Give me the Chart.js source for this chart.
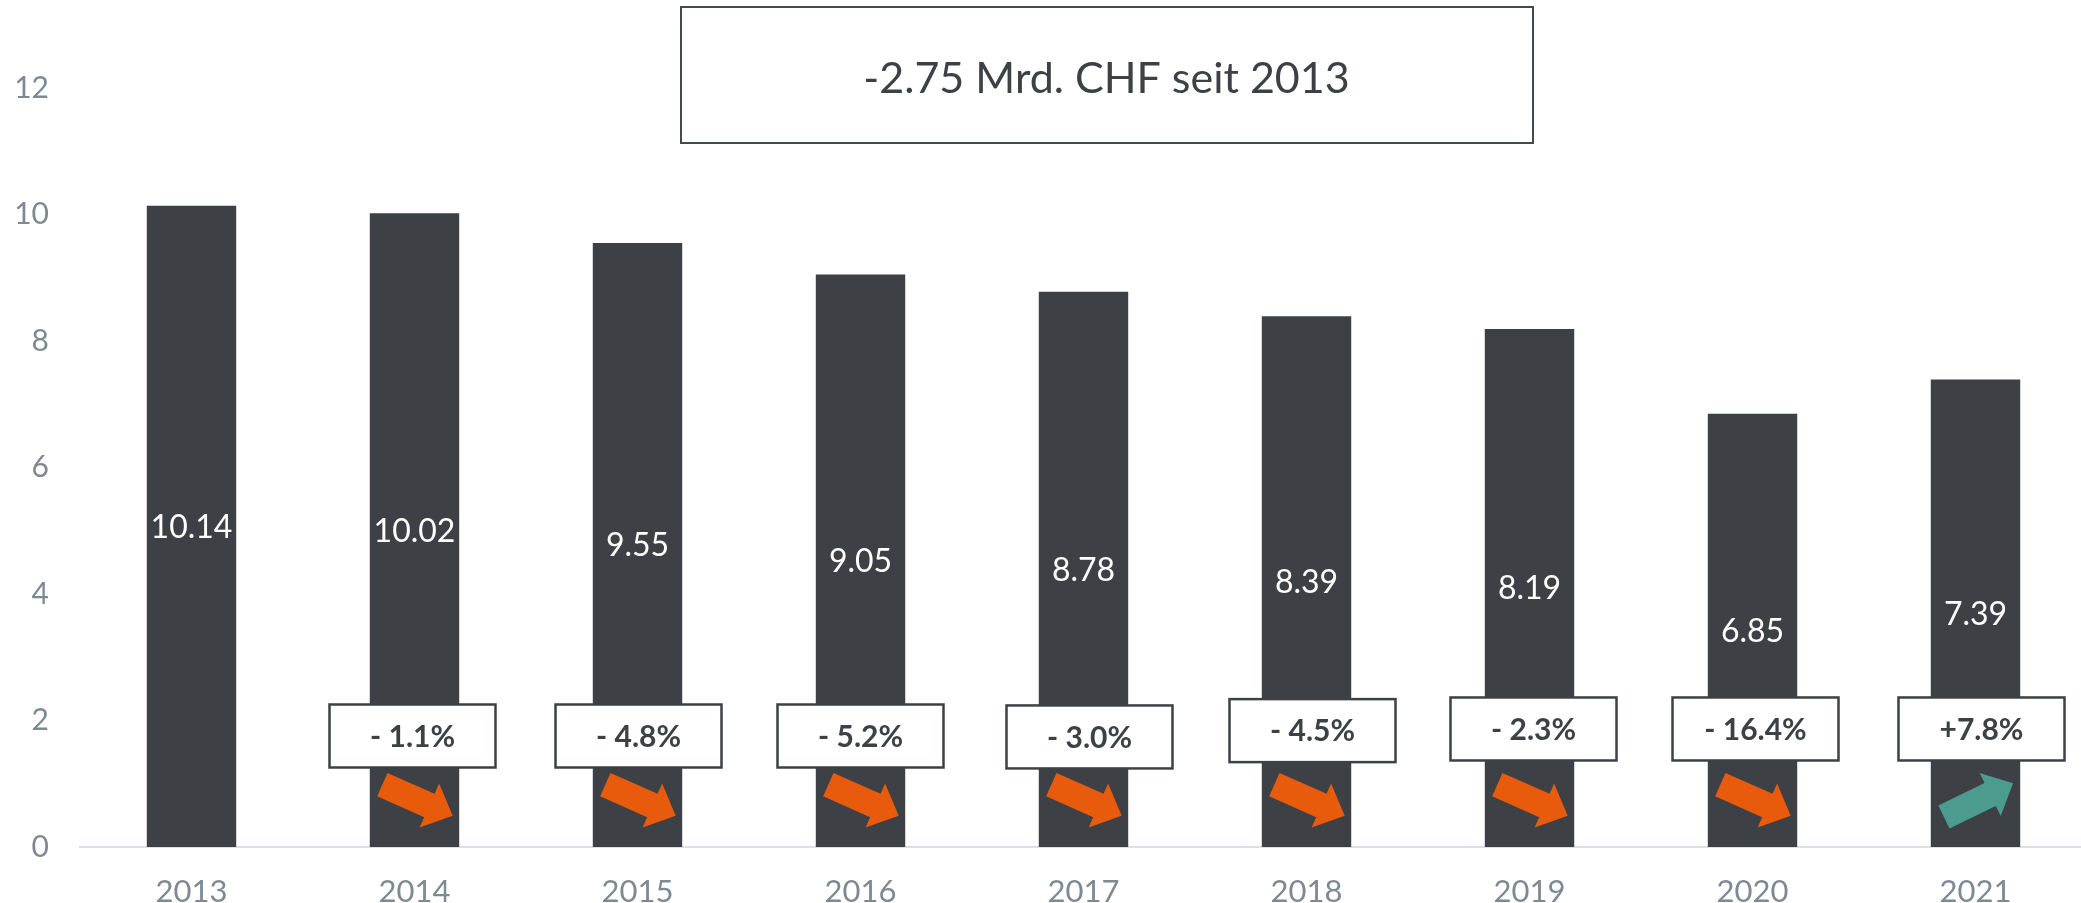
<!DOCTYPE html>
<html>
<head>
<meta charset="utf-8">
<script src="https://cdn.jsdelivr.net/npm/chart.js@4.4.0/dist/chart.umd.min.js"></script>
<style>
  html, body { margin: 0; padding: 0; background: #ffffff; overflow: hidden; }
  #wrap { position: absolute; left: 0; top: 0; width: 2087px; height: 903px; }
</style>
</head>
<body>
<div id="wrap"><canvas id="c" width="2087" height="903"></canvas></div>
<script>
// ---- data ----
const categories = ['2013', '2014', '2015', '2016', '2017', '2018', '2019', '2020', '2021'];
const values = [10.14, 10.02, 9.55, 9.05, 8.78, 8.39, 8.19, 6.85, 7.39];
const changeLabels = [null, '- 1.1%', '- 4.8%', '- 5.2%', '- 3.0%', '- 4.5%', '- 2.3%', '- 16.4%', '+7.8%'];
const yTickValues = [0, 2, 4, 6, 8, 10, 12];
const headline = '-2.75 Mrd. CHF seit 2013';

const FONT = 'Lato, "Open Sans", sans-serif';
const DARK = '#3d4145';
const TICK = '#7d8a93';

const barValuePlugin = {
  id: 'barValues',
  afterDatasetsDraw(chart) {
    const ctx = chart.ctx;
    const meta = chart.getDatasetMeta(0);
    ctx.save();
    ctx.font = '32px ' + FONT;
    ctx.fillStyle = '#ffffff';
    ctx.textAlign = 'center';
    ctx.textBaseline = 'alphabetic';
    meta.data.forEach((bar, i) => {
      const mid = (bar.y + bar.base) / 2;
      ctx.fillText(values[i].toFixed(2), bar.x, mid + 0.7165 * 32 / 2);
    });
    ctx.restore();
  }
};

const changePlugin = {
  id: 'changes',
  afterDatasetsDraw(chart, args, opts) {
    const ctx = chart.ctx;
    const xs = chart.scales.x, ys = chart.scales.y;
    ctx.save();
    for (let i = 1; i < categories.length; i++) {
      if (!changeLabels[i]) continue;
      const cx = xs.getPixelForValue(i) + opts.boxDx[i];
      const cy = ys.getPixelForValue(opts.boxLevel[i]);
      const w = 166, h = 63;
      ctx.fillStyle = '#ffffff';
      ctx.fillRect(cx - w / 2, cy - h / 2, w, h);
      ctx.lineWidth = 2.5;
      ctx.strokeStyle = DARK;
      ctx.strokeRect(cx - w / 2, cy - h / 2, w, h);
      ctx.font = 'bold 30px ' + FONT;
      ctx.fillStyle = DARK;
      ctx.textAlign = 'center';
      ctx.textBaseline = 'alphabetic';
      ctx.fillText(changeLabels[i], cx, cy + 0.7165 * 30 / 2);

      // arrow
      const up = values[i] > values[i - 1];
      const ax = xs.getPixelForValue(i) + 3;
      const ay = ys.getPixelForValue(opts.arrowLevel);
      ctx.save();
      ctx.translate(ax, ay);
      ctx.rotate((up ? -26 : 24) * Math.PI / 180);
      ctx.beginPath();
      ctx.moveTo(-38.5, -12.75);
      ctx.lineTo(13, -12.75);
      ctx.lineTo(13, -24);
      ctx.lineTo(38.5, 0);
      ctx.lineTo(13, 24);
      ctx.lineTo(13, 12.75);
      ctx.lineTo(-38.5, 12.75);
      ctx.closePath();
      ctx.fillStyle = up ? '#4b9b8f' : '#e85b0c';
      ctx.fill();
      ctx.restore();
    }
    ctx.restore();
  }
};

const headlinePlugin = {
  id: 'headline',
  afterDraw(chart) {
    const ctx = chart.ctx;
    ctx.save();
    ctx.fillStyle = '#ffffff';
    ctx.fillRect(680, 6, 853, 137);
    ctx.lineWidth = 2;
    ctx.strokeStyle = '#45494d';
    ctx.strokeRect(681, 7, 852, 136);
    ctx.font = '43px ' + FONT;
    ctx.fillStyle = DARK;
    ctx.textAlign = 'center';
    ctx.textBaseline = 'alphabetic';
    ctx.fillText(headline, 1106.5, 78 + 0.7165 * 43 / 2);
    ctx.restore();
  }
};

function build() {
  new Chart(document.getElementById('c'), {
    type: 'bar',
    data: {
      labels: categories,
      datasets: [{
        data: values,
        backgroundColor: DARK,
        borderWidth: 0,
        barPercentage: 0.401,
        categoryPercentage: 1.0
      }]
    },
    options: {
      responsive: false,
      animation: false,
      devicePixelRatio: 1,
      layout: { padding: { top: 88, left: 0, right: 0, bottom: 0 } },
      plugins: {
        legend: { display: false },
        tooltip: { enabled: false },
        title: { display: false },
        changes: {
          boxLevel: [0, 1.755, 1.755, 1.755, 1.74, 1.84, 1.866, 1.866, 1.866],
          boxDx: [0, -2, 1, 0, 6, 6, 4, 3, 6],
          arrowLevel: 0.74
        }
      },
      scales: {
        x: {
          grid: { display: false, drawTicks: false },
          border: { display: true, color: '#dde1e4', width: 2 },
          ticks: { color: TICK, font: { family: FONT, size: 31 }, padding: 26 },
          afterFit(scale) { scale.height = 56; }
        },
        y: {
          min: 0,
          max: 12,
          afterBuildTicks(scale) { scale.ticks = yTickValues.map(v => ({ value: v })); },
          grid: { display: false, drawTicks: false },
          border: { display: false },
          ticks: { color: TICK, font: { family: FONT, size: 30 }, padding: 31 },
          afterFit(scale) { scale.width = 80; }
        }
      }
    },
    plugins: [barValuePlugin, changePlugin, headlinePlugin]
  });
}

if (document.fonts && document.fonts.load) {
  Promise.all([
    document.fonts.load('30px Lato'),
    document.fonts.load('bold 30px Lato')
  ]).then(build, build);
} else {
  build();
}
</script>
</body>
</html>
